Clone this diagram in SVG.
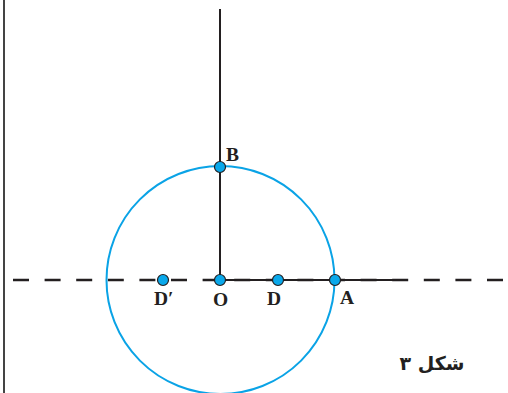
<svg xmlns="http://www.w3.org/2000/svg" width="508" height="393" viewBox="0 0 508 393">
<style>
.ln{stroke:#231f20;stroke-width:2;fill:none}
.dash{stroke:#231f20;stroke-width:2.4;stroke-dasharray:16 15.6;fill:none}
.circ{stroke:#0aa3e6;stroke-width:2;fill:none}
.pt{fill:#0aa8ea;stroke:#231f20;stroke-width:1.2}
.lbl{font-family:"Liberation Serif",serif;font-weight:bold;font-size:19.5px;fill:#231f20}
.cap{font-family:"DejaVu Sans",sans-serif;font-weight:bold;font-size:19px;fill:#231f20}
</style>
<rect width="508" height="393" fill="#fff"/>
<g id="connectors">
<line class="ln" x1="4" y1="0" x2="4" y2="393" style="stroke:#444"/>
<line class="dash" x1="13" y1="280" x2="505" y2="280"/>
<line class="ln" x1="220" y1="280" x2="406" y2="280"/>
<line class="ln" x1="220" y1="9" x2="220" y2="280"/>
<circle class="circ" cx="220.5" cy="280" r="114"/>
</g>
<g id="B"><circle class="pt" cx="220" cy="167" r="5.5"/><text class="lbl" x="226" y="161">B</text></g>
<g id="Dp"><circle class="pt" cx="163" cy="280" r="5.5"/><text class="lbl" x="154" y="305">D′</text></g>
<g id="O"><circle class="pt" cx="220" cy="280" r="5.5"/><text class="lbl" x="213" y="306">O</text></g>
<g id="D"><circle class="pt" cx="278" cy="280" r="5.5"/><text class="lbl" x="267" y="305">D</text></g>
<g id="A"><circle class="pt" cx="335" cy="280" r="5.5"/><text class="lbl" x="340" y="304">A</text></g>
<g id="caption"><text class="cap" x="432" y="370" text-anchor="middle">شکل ۳</text></g>
</svg>
